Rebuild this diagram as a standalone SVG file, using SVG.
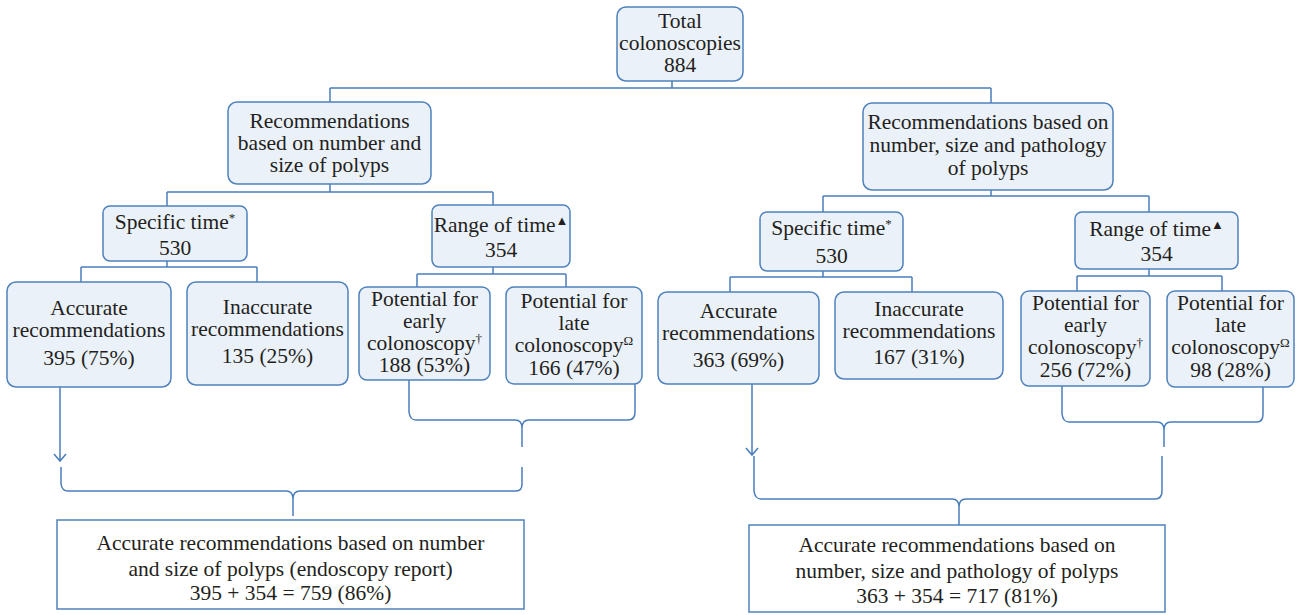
<svg xmlns="http://www.w3.org/2000/svg" width="1298" height="615" viewBox="0 0 1298 615">
<style>
.box{fill:#EBF1F9;stroke:#4F81BD;stroke-width:1.5}
.sum{fill:#FFFFFF;stroke:#4F81BD;stroke-width:1.5}
.ln{fill:none;stroke:#4A7EBB;stroke-width:1.5}
text{font-family:"Liberation Serif","DejaVu Serif",serif;font-size:21.5px;fill:#231F20;text-anchor:middle}
.sup{font-size:13px}
</style>
<rect width="1298" height="615" fill="#FFFFFF"/>
<g id="connectors" class="ln">
<path d="M672,81V88M330,88H991M330,88V102M991,88V103"/>
<path d="M330,184V192M167,192H493M167,192V206M493,192V205"/>
<path d="M167,261V267M81,267H257M81,267V282M257,267V282"/>
<path d="M493,267V274M417,274H566M417,274V287M566,274V287"/>
<path d="M991,190V196M823,196H1149M823,196V212M1149,196V212"/>
<path d="M823,271V277M730,277H912M730,277V292M912,277V292"/>
<path d="M1149,269V276M1077,276H1222M1077,276V291M1222,276V291"/>
<path d="M60,387V461M54,454L60,461L66,454"/>
<path d="M752,384V455M746,448L752,455L758,448"/>
<path d="M409,380V412Q410,420 416,420H515Q522,420 522,428V447M522,428Q522,420 529,420H628Q635,420 635,412V384"/>
<path d="M61,467V484Q62,491 68,491H286Q293,491 293,499V516M293,499Q293,491 300,491H516Q522,491 522,484V467"/>
<path d="M1062,386V414Q1063,422 1069,422H1157Q1164,422 1164,430V447M1164,430Q1164,422 1171,422H1257Q1263,422 1263,414V387"/>
<path d="M754,456V491Q755,499 761,499H952Q959,499 959,507V525M959,507Q959,499 966,499H1155Q1162,499 1162,491V456"/>
</g>
<g id="total">
<rect class="box" x="617" y="7" width="126" height="74" rx="9"/>
<text><tspan x="680" y="28">Total</tspan><tspan x="680" y="50">colonoscopies</tspan><tspan x="680" y="72">884</tspan></text>
</g>
<g id="rec-left">
<rect class="box" x="228" y="102" width="203" height="82" rx="9"/>
<text><tspan x="329.5" y="128">Recommendations</tspan><tspan x="329.5" y="150">based on number and</tspan><tspan x="329.5" y="172">size of polyps</tspan></text>
</g>
<g id="rec-right">
<rect class="box" x="863" y="103" width="250" height="87" rx="9"/>
<text><tspan x="988" y="129">Recommendations based on</tspan><tspan x="988" y="152">number, size and pathology</tspan><tspan x="988" y="175">of polyps</tspan></text>
</g>
<g id="specific-left">
<rect class="box" x="103" y="206" width="144" height="55" rx="7"/>
<text><tspan x="175" y="229">Specific time<tspan class="sup" dy="-7">*</tspan></tspan><tspan x="175" y="255">530</tspan></text>
</g>
<g id="range-left">
<rect class="box" x="432" y="205" width="138" height="62" rx="7"/>
<text><tspan x="501" y="232">Range of time<tspan class="sup" dy="-7">▲</tspan></tspan><tspan x="501" y="257">354</tspan></text>
</g>
<g id="accurate-left">
<rect class="box" x="7" y="282" width="164" height="105" rx="9"/>
<text><tspan x="89" y="315">Accurate</tspan><tspan x="89" y="337">recommendations</tspan><tspan x="89" y="365">395 (75%)</tspan></text>
</g>
<g id="inaccurate-left">
<rect class="box" x="187" y="282" width="161" height="103" rx="9"/>
<text><tspan x="267.5" y="314">Inaccurate</tspan><tspan x="267.5" y="336">recommendations</tspan><tspan x="267.5" y="363">135 (25%)</tspan></text>
</g>
<g id="early-left">
<rect class="box" x="359" y="287" width="131" height="93" rx="8"/>
<text><tspan x="424.5" y="306">Potential for</tspan><tspan x="424.5" y="328">early</tspan><tspan x="424.5" y="350">colonoscopy<tspan class="sup" dy="-7">†</tspan></tspan><tspan x="424.5" y="372">188 (53%)</tspan></text>
</g>
<g id="late-left">
<rect class="box" x="506" y="287" width="136" height="97" rx="8"/>
<text><tspan x="574" y="308">Potential for</tspan><tspan x="574" y="330">late</tspan><tspan x="574" y="352">colonoscopy<tspan class="sup" dy="-7">Ω</tspan></tspan><tspan x="574" y="375">166 (47%)</tspan></text>
</g>
<g id="specific-right">
<rect class="box" x="760" y="212" width="143" height="59" rx="7"/>
<text><tspan x="831.5" y="235">Specific time<tspan class="sup" dy="-7">*</tspan></tspan><tspan x="831.5" y="263">530</tspan></text>
</g>
<g id="range-right">
<rect class="box" x="1075" y="212" width="163" height="57" rx="7"/>
<text><tspan x="1156.5" y="236">Range of time<tspan class="sup" dy="-7">▲</tspan></tspan><tspan x="1156.5" y="261">354</tspan></text>
</g>
<g id="accurate-right">
<rect class="box" x="658" y="292" width="161" height="92" rx="9"/>
<text><tspan x="738.5" y="318">Accurate</tspan><tspan x="738.5" y="340">recommendations</tspan><tspan x="738.5" y="367">363 (69%)</tspan></text>
</g>
<g id="inaccurate-right">
<rect class="box" x="835" y="292" width="168" height="87" rx="9"/>
<text><tspan x="919" y="316">Inaccurate</tspan><tspan x="919" y="338">recommendations</tspan><tspan x="919" y="364">167 (31%)</tspan></text>
</g>
<g id="early-right">
<rect class="box" x="1021" y="291" width="129" height="95" rx="8"/>
<text><tspan x="1085.5" y="310">Potential for</tspan><tspan x="1085.5" y="332">early</tspan><tspan x="1085.5" y="354">colonoscopy<tspan class="sup" dy="-7">†</tspan></tspan><tspan x="1085.5" y="377">256 (72%)</tspan></text>
</g>
<g id="late-right">
<rect class="box" x="1167" y="291" width="127" height="96" rx="8"/>
<text><tspan x="1230.5" y="310">Potential for</tspan><tspan x="1230.5" y="332">late</tspan><tspan x="1230.5" y="354">colonoscopy<tspan class="sup" dy="-7">Ω</tspan></tspan><tspan x="1230.5" y="377">98 (28%)</tspan></text>
</g>
<g id="summary-left">
<rect class="sum" x="57" y="520" width="467" height="89"/>
<text><tspan x="290.5" y="550">Accurate recommendations based on number</tspan><tspan x="290.5" y="576">and size of polyps (endoscopy report)</tspan><tspan x="290.5" y="600">395 + 354 = 759 (86%)</tspan></text>
</g>
<g id="summary-right">
<rect class="sum" x="749" y="525" width="416" height="87"/>
<text><tspan x="957" y="552">Accurate recommendations based on</tspan><tspan x="957" y="578">number, size and pathology of polyps</tspan><tspan x="957" y="603">363 + 354 = 717 (81%)</tspan></text>
</g>
</svg>
